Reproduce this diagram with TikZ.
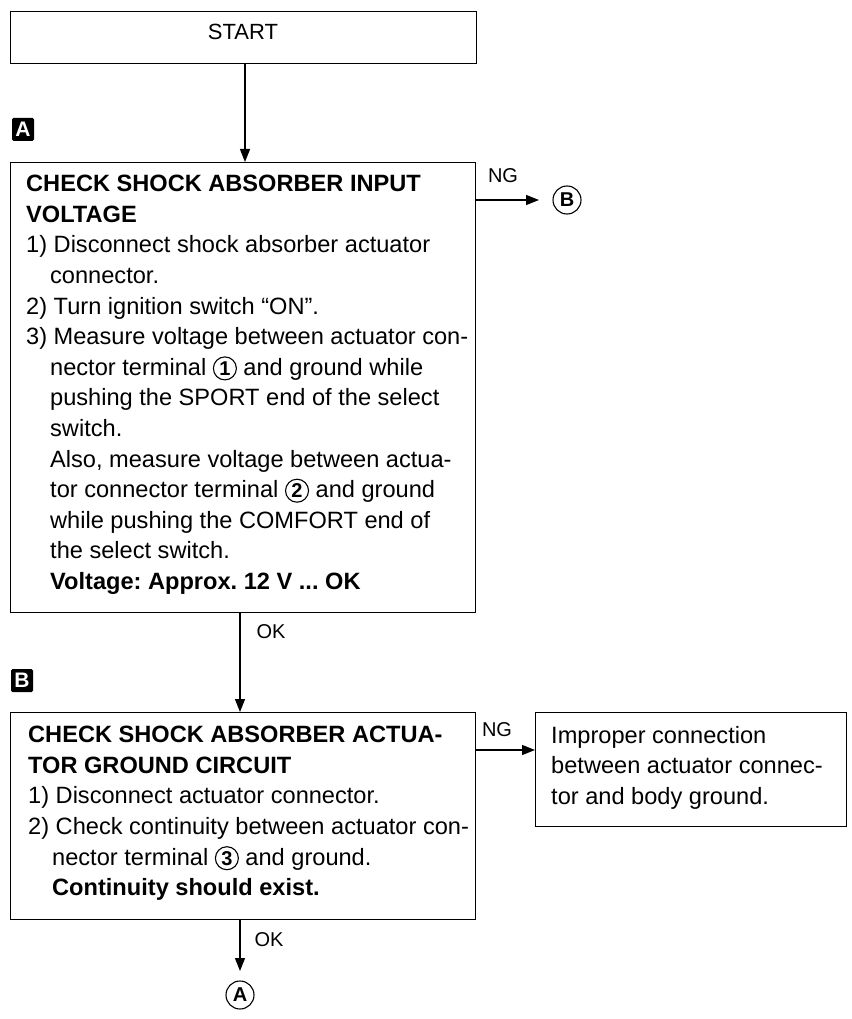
\documentclass[tikz,border=0pt]{standalone}
\usepackage{fontspec}
\setmainfont{Liberation Sans}
\usetikzlibrary{arrows.meta}
\frenchspacing
\newcommand\cnum[1]{\tikz[baseline=(cn.base)]\node(cn)[circle,draw,line width=1.1pt,inner sep=0pt,minimum size=23pt,font=\fontsize{20}{20}\selectfont\bfseries]{#1};}
\newcommand\ind{\hspace*{24pt}}
\begin{document}
\begin{tikzpicture}[x=1pt,y=-1pt,
  box/.style={draw,line width=1.3pt,inner sep=0pt,anchor=north west},
  txt/.style={anchor=north west,inner sep=0pt,align=left,font=\fontsize{23.6}{30.6}\selectfont},
  lbl/.style={inner sep=0pt,font=\fontsize{20}{20}\selectfont},
  arr/.style={line width=1.1pt,-{Triangle[length=13pt,width=10pt]}},
  tag/.style={fill=black,text=white,rounded corners=1.5pt,minimum width=22pt,minimum height=23pt,inner sep=0pt,font=\fontsize{21}{21}\selectfont},
  circ/.style={circle,draw,line width=1.1pt,minimum size=28pt,inner sep=0pt,font=\fontsize{20}{20}\selectfont\bfseries}]
\useasboundingbox (0,0) rectangle (851,1019);
% boxes
\node[box,minimum width=466pt,minimum height=52pt] (start) at (10,11) {};
\node[lbl,font=\fontsize{22}{22}\selectfont] (starttxt) at (243,32) {START};
\node[box,minimum width=465pt,minimum height=450pt] (boxA) at (10,162) {};
\node[box,minimum width=465pt,minimum height=207pt] (boxB) at (10,712) {};
\node[box,minimum width=311pt,minimum height=114pt] (boxC) at (535,712) {};
% tags
\node[tag] (tagA) at (23,129.5) {\bfseries A};
\node[tag] (tagB) at (22,680.5) {\bfseries B};
% texts
\node[txt] (textA) at (26,175) {%
\textbf{CHECK SHOCK ABSORBER INPUT}\\
\textbf{VOLTAGE}\\
1) Disconnect shock absorber actuator\\
\ind connector.\\
2) Turn ignition switch “ON”.\\
3) Measure voltage between actuator con-\\
\ind nector terminal \cnum{1} and ground while\\
\ind pushing the SPORT end of the select\\
\ind switch.\\
\ind Also, measure voltage between actua-\\
\ind tor connector terminal \cnum{2} and ground\\
\ind while pushing the COMFORT end of\\
\ind the select switch.\\
\ind \textbf{Voltage: Approx. 12 V ... OK}};
\node[txt] (textB) at (28,726) {%
\textbf{CHECK SHOCK ABSORBER ACTUA-}\\
\textbf{TOR GROUND CIRCUIT}\\
1) Disconnect actuator connector.\\
2) Check continuity between actuator con-\\
\ind nector terminal \cnum{3} and ground.\\
\ind \textbf{Continuity should exist.}};
\node[txt] (textC) at (551,726) {%
Improper connection\\
between actuator connec-\\
tor and body ground.};
% end circles
\node[circ] (circB) at (567,200) {B};
\node[circ] (circA) at (240,995) {A};
% connector coordinates
\coordinate (x1) at (245,0);
\coordinate (x2) at (240,0);
\coordinate (y2) at (0,750);
\coordinate (tipB) at (539,200);
\coordinate (tipA) at (240,971);
% connectors
\draw[arr] (start.south -| x1) -- (boxA.north -| x1);
\draw[arr] (boxA.east |- circB) -- (tipB);
\draw[arr] (boxA.south -| x2) -- (boxB.north -| x2);
\draw[arr] (boxB.east |- y2) -- (boxC.west |- y2);
\draw[arr] (boxB.south -| x2) -- (tipA);
% labels
\node[lbl] (ngA) at (503,176) {NG};
\node[lbl] (okA) at (271,632) {OK};
\node[lbl] (ngB) at (497,730) {NG};
\node[lbl] (okB) at (269,940) {OK};
\end{tikzpicture}
\end{document}
